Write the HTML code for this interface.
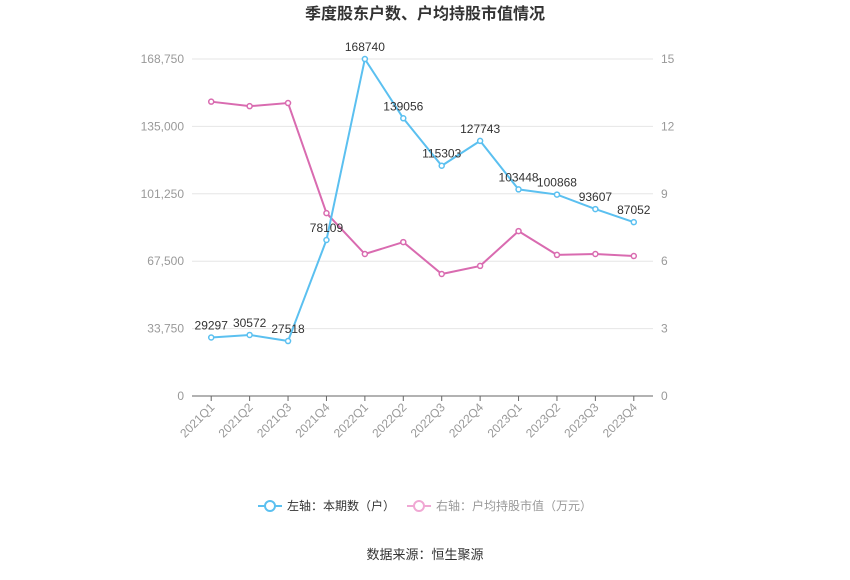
<!DOCTYPE html>
<html><head><meta charset="utf-8"><style>
body{margin:0;background:#fff;font-family:"Liberation Sans","Noto Sans CJK SC",sans-serif;}
</style></head><body>
<svg id="c" width="850" height="575" style="font-family:'Liberation Sans','Noto Sans CJK SC',sans-serif"></svg>
<script>
const categories=["2021Q1","2021Q2","2021Q3","2021Q4","2022Q1","2022Q2","2022Q3","2022Q4","2023Q1","2023Q2","2023Q3","2023Q4"];
const holders=[29297,30572,27518,78109,168740,139056,115303,127743,103448,100868,93607,87052];
const avgValue=[13.1,12.9,13.04,8.14,6.32,6.85,5.43,5.79,7.34,6.28,6.32,6.23];
const leftTicks=[0,33750,67500,101250,135000,168750];
const rightTicks=[0,3,6,9,12,15];
const NS="http://www.w3.org/2000/svg";
const svg=document.getElementById('c');
const X0=192,X1=653,Y0=396,Y1=59;
const bw=(X1-X0)/categories.length;
const xs=i=>X0+bw*(i+0.5);
const yl=v=>Y0-(v/168750)*(Y0-Y1);
const yr=v=>Y0-(v/15)*(Y0-Y1);
function el(t,a,txt){const e=document.createElementNS(NS,t);for(const k in a)e.setAttribute(k,a[k]);if(txt!==undefined)e.textContent=txt;svg.appendChild(e);return e;}
let t=el('text',{x:425,y:19,'text-anchor':'middle','font-size':16,'font-weight':'bold',fill:'#333'},'季度股东户数、户均持股市值情况');


leftTicks.forEach((v,i)=>{
 const y=yl(v);
 if(i>0){const g=el('line',{x1:X0,x2:X1,y1:y,y2:y,stroke:'#e6e6e6'});
 
 }
 const l=el('text',{x:X0-8,y:y+4,'text-anchor':'end','font-size':12,fill:'#999'},v.toLocaleString('en-US'));
 
 
});
rightTicks.forEach(v=>{
 const l=el('text',{x:X1+8,y:yr(v)+4,'text-anchor':'start','font-size':12,fill:'#999'},v);
 
 
});
let ax=el('line',{x1:X0,x2:X1,y1:Y0,y2:Y0,stroke:'#666'});


categories.forEach((c,i)=>{
 const x=xs(i);
 const tk=el('line',{x1:x,x2:x,y1:Y0,y2:Y0+5,stroke:'#666'});
 
 
 const l=el('text',{x:x+4,y:Y0+12,'text-anchor':'end','font-size':12,fill:'#999',transform:`rotate(-45 ${x+4} ${Y0+12})`},c);
 
 
});
function series(vals,yf,color,name,labels){
 const p=el('polyline',{points:vals.map((v,i)=>xs(i)+','+yf(v)).join(' '),fill:'none',stroke:color,'stroke-width':2});
 
 
 vals.forEach((v,i)=>{
  const c=el('circle',{cx:xs(i),cy:yf(v),r:2.5,fill:'#fff',stroke:color,'stroke-width':1.5});
  
  
  if(labels){const l=el('text',{x:xs(i),y:yf(v)-8,'text-anchor':'middle','font-size':12,fill:'#333'},v);
  
  }
 });
}
series(avgValue,yr,'#d96bb0','avg-value',false);
series(holders,yl,'#5bc0f0','holders',true);
// legend
function legend(x,color,text,tc,name){
 const g=el('g',{});
 
 
 const l=document.createElementNS(NS,'line');l.setAttribute('x1',x);l.setAttribute('x2',x+24);l.setAttribute('y1',506);l.setAttribute('y2',506);l.setAttribute('stroke',color);l.setAttribute('stroke-width',2);g.appendChild(l);
 const c=document.createElementNS(NS,'circle');c.setAttribute('cx',x+12);c.setAttribute('cy',506);c.setAttribute('r',5);c.setAttribute('fill','#fff');c.setAttribute('stroke',color);c.setAttribute('stroke-width',2);g.appendChild(c);
 const t=document.createElementNS(NS,'text');t.setAttribute('x',x+29);t.setAttribute('y',510);t.setAttribute('font-size',12);t.setAttribute('fill',tc);t.textContent=text;g.appendChild(t);
}
legend(258,'#5bc0f0','左轴：本期数（户）','#333','legend-holders');
legend(407,'#f0a8d4','右轴：户均持股市值（万元）','#999','legend-avg-value');
let s=el('text',{x:425,y:559,'text-anchor':'middle','font-size':13,fill:'#333'},'数据来源：恒生聚源');


</script>
</body></html>
